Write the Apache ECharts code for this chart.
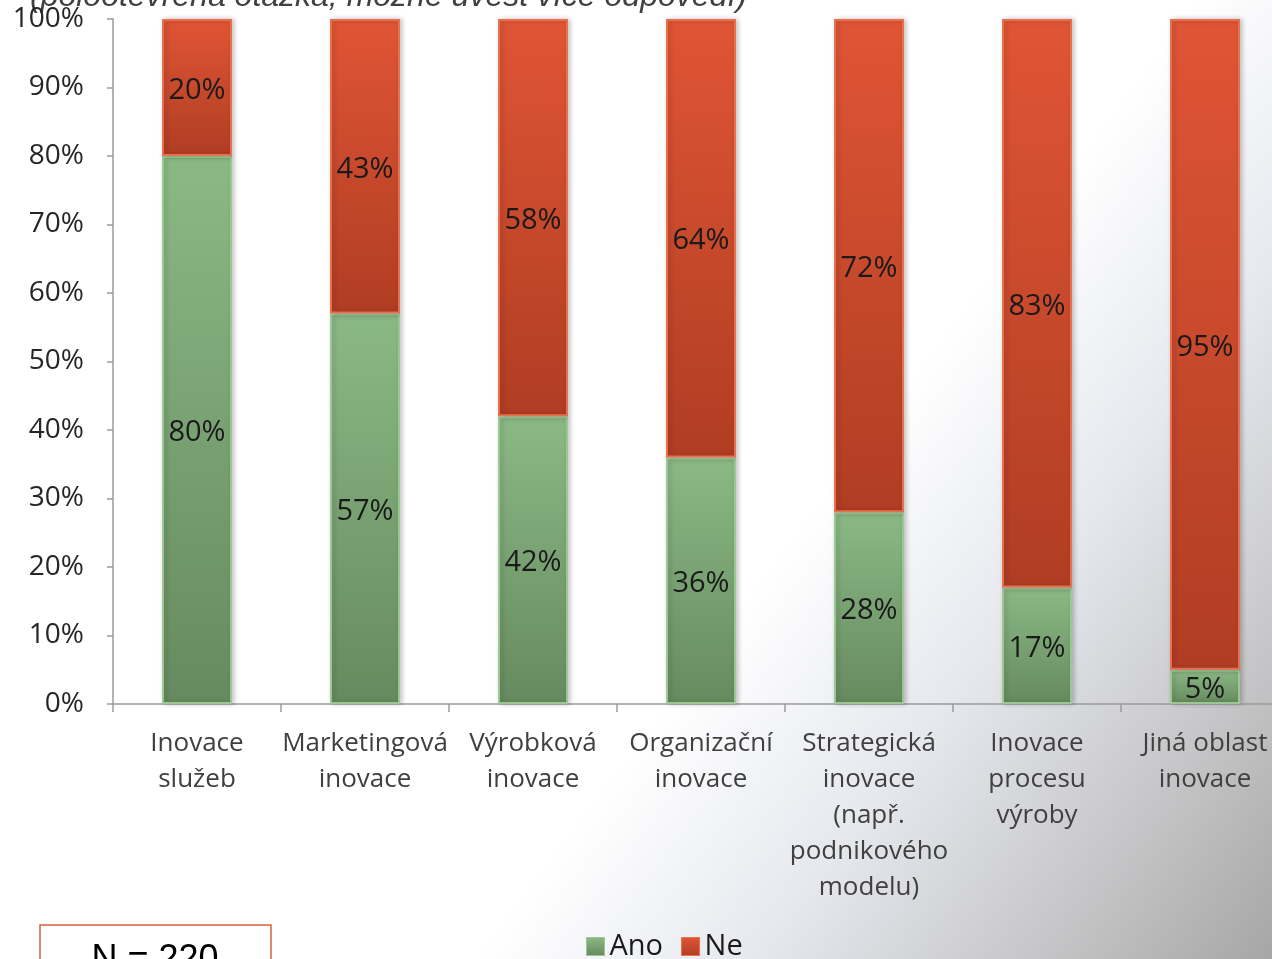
<!DOCTYPE html>
<html>
<head>
<meta charset="utf-8">
<script src="https://cdn.jsdelivr.net/npm/echarts@6/dist/echarts.min.js"></script>
<style>
  html, body { margin: 0; padding: 0; }
  #chart { width: 1272px; height: 959px; }
</style>
</head>
<body>
<div id="chart"></div>
<script>
// Inovace podle oblasti: podíl odpovědí Ano / Ne
const categories = [
  'Inovace\nslužeb',
  'Marketingová\ninovace',
  'Výrobková\ninovace',
  'Organizační\ninovace',
  'Strategická\ninovace\n(např.\npodnikového\nmodelu)',
  'Inovace\nprocesu\nvýroby',
  'Jiná oblast\ninovace'
];
const ano = [80, 57, 42, 36, 28, 17, 5];
const ne = [20, 43, 58, 64, 72, 83, 95];
const yTicks = [0, 10, 20, 30, 40, 50, 60, 70, 80, 90, 100];

const FONT = '"Open Sans", "Noto Sans", sans-serif';

const green = new echarts.graphic.LinearGradient(0, 0, 0, 1, [
  { offset: 0, color: '#8bb985' },
  { offset: 1, color: '#668a5f' }
]);
const red = new echarts.graphic.LinearGradient(0, 0, 0, 1, [
  { offset: 0, color: '#e05535' },
  { offset: 1, color: '#b03d23' }
]);

const chart = echarts.init(document.getElementById('chart'), null, { renderer: 'canvas' });

const barLabel = {
  show: true,
  position: 'inside',
  offset: [0, 3],
  formatter: p => p.value + '%',
  color: '#1a1a1a',
  fontFamily: FONT,
  fontSize: 29
};

chart.setOption({
  animation: false,
  backgroundColor: '#ffffff',
  graphic: [
    {
      type: 'rect',
      z: -100,
      silent: true,
      shape: { x: 0, y: 0, width: 1272, height: 959 },
      style: {
        fill: new echarts.graphic.LinearGradient(0, 0, 1, 1, [
          { offset: 0, color: '#ffffff' },
          { offset: 0.6, color: '#ffffff' },
          { offset: 0.74, color: '#e6e8ee' },
          { offset: 0.88, color: '#c6c6c8' },
          { offset: 1, color: '#a6a6a6' }
        ])
      }
    },
    {
      type: 'text',
      left: 30,
      top: -19,
      silent: true,
      style: {
        text: '(polootevřená otázka, možné uvést více odpovědí)',
        fill: '#404040',
        font: 'italic 32px "Liberation Sans", Arial, sans-serif'
      }
    },
    {
      type: 'rect',
      silent: true,
      shape: { x: 40, y: 925, width: 231, height: 60 },
      style: { fill: '#ffffff', stroke: '#d4623f', lineWidth: 1.5 }
    },
    {
      type: 'text',
      silent: true,
      x: 155,
      y: 960,
      style: {
        text: 'N = 220',
        fill: '#000000',
        font: '36px "Liberation Sans", Arial, sans-serif',
        textAlign: 'center',
        textVerticalAlign: 'middle'
      }
    }
  ],
  legend: {
    bottom: -7,
    left: 581,
    icon: 'rect',
    itemWidth: 18,
    itemHeight: 18,
    itemGap: 18,
    textStyle: { fontFamily: FONT, fontSize: 29, color: '#1a1a1a', padding: [0, 0, 0, 0] },
    data: [
      { name: 'Ano', itemStyle: { color: green, borderColor: '#9cc794', borderWidth: 1 } },
      { name: 'Ne', itemStyle: { color: red, borderColor: '#e8704f', borderWidth: 1 } }
    ]
  },
  grid: {
    left: 113,
    width: 1176,
    top: 19,
    bottom: 255,
    containLabel: false,
    outerBoundsMode: 'none'
  },
  xAxis: {
    type: 'category',
    data: categories,
    axisLine: { lineStyle: { color: '#9a9a9a', width: 1.5 } },
    axisTick: { show: true, length: 8, lineStyle: { color: '#9a9a9a', width: 1.5 } },
    axisLabel: {
      interval: 0,
      margin: 22,
      color: '#404040',
      fontFamily: FONT,
      fontSize: 26,
      lineHeight: 36,
      align: 'center'
    }
  },
  yAxis: {
    type: 'value',
    min: 0,
    max: 100,
    interval: 10,
    axisLine: { show: true, lineStyle: { color: '#9a9a9a', width: 1.5 } },
    axisTick: { show: true, length: 6, lineStyle: { color: '#9a9a9a', width: 1.5 } },
    splitLine: { show: false },
    axisLabel: {
      margin: 29,
      color: '#262626',
      fontFamily: FONT,
      fontSize: 28,
      padding: [4, 0, 0, 0],
      customValues: yTicks,
      formatter: v => v + '%'
    }
  },
  series: [
    {
      name: 'Ano',
      type: 'bar',
      stack: 'total',
      barWidth: 70,
      data: ano,
      label: barLabel,
      itemStyle: {
        color: green,
        borderColor: '#9cc794',
        borderWidth: 2,
        shadowBlur: 5,
        shadowOffsetX: 2,
        shadowColor: 'rgba(0,0,0,0.22)'
      }
    },
    {
      name: 'Ne',
      type: 'bar',
      stack: 'total',
      barWidth: 70,
      data: ne,
      label: barLabel,
      itemStyle: {
        color: red,
        borderColor: '#e8704f',
        borderWidth: 2,
        shadowBlur: 5,
        shadowOffsetX: 2,
        shadowColor: 'rgba(0,0,0,0.22)'
      }
    }
  ]
});
</script>
</body>
</html>
